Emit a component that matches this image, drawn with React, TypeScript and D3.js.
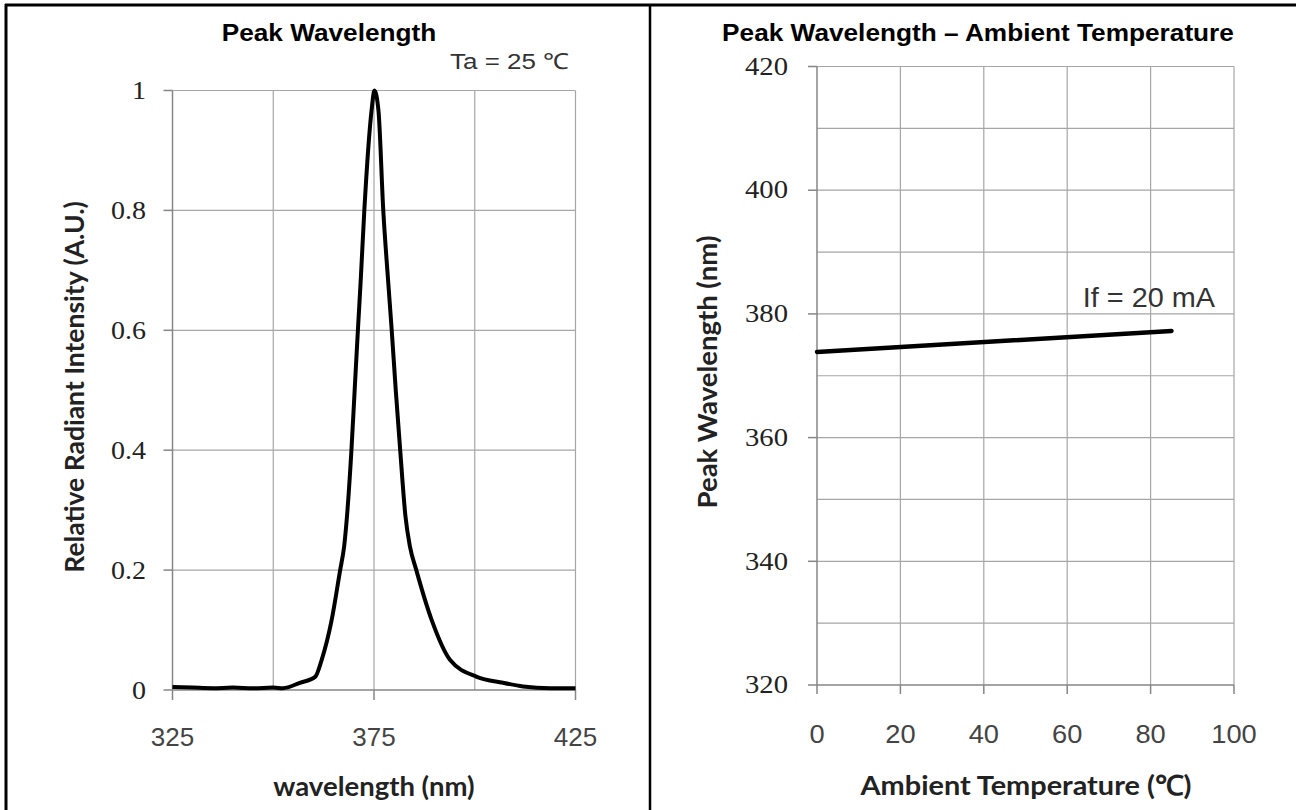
import * as d3 from "d3";

// spectrum
const wavelengths = [
  325, 330, 335, 340, 345, 350, 352.4, 356.6, 360.4, 362, 364.5, 366.6, 367.6,
  368.3, 369.4, 370.2, 371, 371.7, 372.6, 374.4, 375.1, 376.1, 377.3, 378.5,
  379.4, 380.4, 381.5, 382.8, 383.9, 385.5, 389.3, 393.9, 400.5, 407, 412,
  418.7, 425,
];
const intensity = [
  0.005, 0.004, 0.003, 0.004, 0.003, 0.004, 0.003, 0.012, 0.022, 0.05, 0.117,
  0.2, 0.24, 0.29, 0.4, 0.5, 0.6, 0.683, 0.8, 0.967, 1.0, 0.967, 0.8, 0.683,
  0.6, 0.5, 0.4, 0.29, 0.24, 0.2, 0.117, 0.05, 0.022, 0.012, 0.006, 0.003,
  0.003,
];
const wlTicks = [325, 375, 425];
const wlGrid = [350, 375, 400, 425];
const intTicks = [0, 0.2, 0.4, 0.6, 0.8, 1];

// peak wavelength vs temperature
const temps = [0, 85];
const peakWl = [373.85, 377.25];
const tempTicks = [0, 20, 40, 60, 80, 100];
const pwTicks = [320, 340, 360, 380, 400, 420];
const pwGrid = [330, 340, 350, 360, 370, 380, 390, 400, 410, 420];

const GRID = "#a6a6a6";
const AXIS = "#868686";
const serif = "'Liberation Serif', 'DejaVu Serif', serif";
const sans = "'Liberation Sans', Arial, sans-serif";
const labelFont = "Lato, 'Open Sans', sans-serif";

// text stretched horizontally (the source images are not square-scaled)
const T = (p: {
  x: number;
  y: number;
  sx?: number;
  anchor?: string;
  size: number;
  font: string;
  weight?: string;
  fill?: string;
  rotate?: boolean;
  children: any;
}) => (
  <text
    transform={
      p.rotate
        ? `translate(${p.x},${p.y}) rotate(-90)`
        : `translate(${p.x},${p.y}) scale(${p.sx ?? 1},1)`
    }
    textAnchor={p.anchor ?? "middle"}
    fontFamily={p.font}
    fontWeight={p.weight ?? "normal"}
    fontSize={p.size}
    fill={p.fill ?? "#222"}
  >
    {p.children}
  </text>
);

function LeftChart() {
  const x = d3.scaleLinear().domain([325, 425]).range([172.5, 575.5]);
  const y = d3.scaleLinear().domain([0, 1]).range([690, 90.5]);
  const pts = wavelengths.map((w, i) => [w, intensity[i]] as [number, number]);
  const line = d3
    .line<[number, number]>()
    .x((d) => x(d[0]))
    .y((d) => y(d[1]))
    .curve(d3.curveMonotoneX);

  return (
    <g>
      <T x={329} y={41} sx={1.14} size={23} font={sans} weight="bold" fill="#000">
        Peak Wavelength
      </T>
      <T x={569} y={69} sx={1.18} anchor="end" size={22} font={sans} fill="#333">
        Ta = 25 ℃
      </T>
      {intTicks.slice(1).map((t) => (
        <line key={"h" + t} x1={x(325)} x2={x(425)} y1={y(t)} y2={y(t)} stroke={GRID} strokeWidth={1.2} />
      ))}
      {wlGrid.map((t) => (
        <line key={"v" + t} x1={x(t)} x2={x(t)} y1={y(0)} y2={y(1)} stroke={GRID} strokeWidth={1.2} />
      ))}
      <line x1={x(325)} x2={x(325)} y1={y(0)} y2={y(1)} stroke={AXIS} strokeWidth={1.5} />
      <line x1={x(325)} x2={x(425)} y1={y(0)} y2={y(0)} stroke={AXIS} strokeWidth={1.5} />
      {intTicks.map((t) => (
        <g key={"yt" + t}>
          <line x1={x(325) - 9} x2={x(325)} y1={y(t)} y2={y(t)} stroke={AXIS} strokeWidth={1.5} />
          <T x={146} y={y(t) + 8.5} sx={1.12} anchor="end" size={25} font={serif}>
            {d3.format("~g")(t)}
          </T>
        </g>
      ))}
      {wlTicks.map((t) => (
        <g key={"xt" + t}>
          <line x1={x(t)} x2={x(t)} y1={y(0)} y2={y(0) + 10} stroke={AXIS} strokeWidth={1.5} />
          <T x={x(t)} y={746} size={26} font={sans} fill="#444">
            {t}
          </T>
        </g>
      ))}
      <path d={line(pts) ?? ""} fill="none" stroke="#000" strokeWidth={4} strokeLinejoin="round" />
      <T x={374} y={796} size={27.5} font={labelFont} weight="bold">
        wavelength (nm)
      </T>
      <T x={84} y={387} rotate size={26.5} font={labelFont} weight="bold">
        Relative Radiant Intensity (A.U.)
      </T>
    </g>
  );
}

function RightChart() {
  const x = d3.scaleLinear().domain([0, 100]).range([817, 1234]);
  const y = d3.scaleLinear().domain([320, 420]).range([685, 66.5]);
  const pts = temps.map((t, i) => [t, peakWl[i]] as [number, number]);
  const line = d3
    .line<[number, number]>()
    .x((d) => x(d[0]))
    .y((d) => y(d[1]));

  return (
    <g>
      <T x={978} y={41} sx={1.14} size={23} font={sans} weight="bold" fill="#000">
        Peak Wavelength – Ambient Temperature
      </T>
      {pwGrid.map((t) => (
        <line key={"h" + t} x1={x(0)} x2={x(100)} y1={y(t)} y2={y(t)} stroke={GRID} strokeWidth={1.2} />
      ))}
      {tempTicks.slice(1).map((t) => (
        <line key={"v" + t} x1={x(t)} x2={x(t)} y1={y(320)} y2={y(420)} stroke={GRID} strokeWidth={1.2} />
      ))}
      <line x1={x(0)} x2={x(0)} y1={y(320)} y2={y(420)} stroke={AXIS} strokeWidth={1.5} />
      <line x1={x(0)} x2={x(100)} y1={y(320)} y2={y(320)} stroke={AXIS} strokeWidth={1.5} />
      {pwTicks.map((t) => (
        <g key={"yt" + t}>
          <line x1={x(0) - 9} x2={x(0)} y1={y(t)} y2={y(t)} stroke={AXIS} strokeWidth={1.5} />
          <T x={788} y={y(t) + 8.2} sx={1.17} anchor="end" size={24.5} font={serif}>
            {t}
          </T>
        </g>
      ))}
      {tempTicks.map((t) => (
        <g key={"xt" + t}>
          <line x1={x(t)} x2={x(t)} y1={y(320)} y2={y(320) + 9} stroke={AXIS} strokeWidth={1.5} />
          <T x={x(t)} y={743} sx={1.07} size={25.5} font={sans} fill="#444">
            {t}
          </T>
        </g>
      ))}
      <path d={line(pts) ?? ""} fill="none" stroke="#000" strokeWidth={4.5} strokeLinecap="round" />
      <T x={1215} y={306.5} sx={1.03} anchor="end" size={28} font={sans} fill="#333">
        If = 20 mA
      </T>
      <T x={1026} y={795} sx={1.05} size={27.5} font={labelFont} weight="bold">
        Ambient Temperature (℃)
      </T>
      <T x={717} y={372} rotate size={27.5} font={labelFont} weight="bold">
        Peak Wavelength (nm)
      </T>
    </g>
  );
}

export default function App() {
  return (
    <svg
      width={1296}
      height={810}
      style={{ position: "absolute", left: 0, top: 0, background: "#fff" }}
    >
      <rect width={1296} height={810} fill="#fff" />
      <line x1={5} x2={1296} y1={5} y2={5} stroke="#000" strokeWidth={3} />
      <line x1={6} x2={6} y1={4} y2={810} stroke="#000" strokeWidth={3} />
      <line x1={650} x2={650} y1={4} y2={810} stroke="#000" strokeWidth={2.5} />
      <LeftChart />
      <RightChart />
    </svg>
  );
}
